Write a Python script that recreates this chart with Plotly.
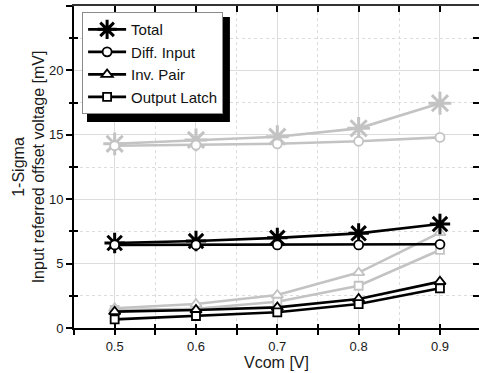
import plotly.graph_objects as go

vcom = [0.5, 0.6, 0.7, 0.8, 0.9]

# black series
total_b = [6.6, 6.75, 7.0, 7.35, 8.07]
diff_b = [6.45, 6.45, 6.45, 6.45, 6.5]
inv_b = [1.27, 1.4, 1.6, 2.25, 3.6]
latch_b = [0.67, 0.93, 1.22, 1.86, 3.08]

# gray series
total_g = [14.3, 14.6, 14.85, 15.5, 17.45]
diff_g = [14.15, 14.2, 14.3, 14.5, 14.8]
inv_g = [1.53, 1.86, 2.56, 4.3, 7.4]
latch_g = [1.4, 1.5, 2.04, 3.28, 6.06]

x_labels = ["0.5", "0.6", "0.7", "0.8", "0.9"]
x_minor = [0.45, 0.55, 0.65, 0.75, 0.85, 0.95]
x_all = [0.45, 0.5, 0.55, 0.6, 0.65, 0.7, 0.75, 0.8, 0.85, 0.9, 0.95]
y_major = [0, 5, 10, 15, 20, 25]
y_minor = [2.5, 7.5, 12.5, 17.5, 22.5]
y_all = [0, 2.5, 5, 7.5, 10, 12.5, 15, 17.5, 20, 22.5, 25]

GRAY = "#c3c3c3"
BLACK = "#000000"
FONT = "Liberation Sans, Arial, sans-serif"

fig = go.Figure()

def add(y, name, symbol, size, color, show, lw_marker=1.8, fill="white"):
    fig.add_trace(go.Scatter(
        x=vcom, y=y, name=name, mode="lines+markers",
        line=dict(color=color, width=2.6),
        marker=dict(symbol=symbol, size=size, color=fill if symbol != "asterisk" else color,
                    line=dict(color=color, width=lw_marker)),
        showlegend=show,
    ))

# gray first
add(total_g, "Total g", "asterisk", 19, GRAY, False, 3)
add(diff_g, "Diff g", "circle", 9, GRAY, False)
add(latch_g, "Latch g", "square", 8, GRAY, False)
add(inv_g, "Inv g", "triangle-up", 10, GRAY, False)
# black
add(total_b, "Total", "asterisk", 17, BLACK, True, 3)
add(diff_b, "Diff. Input", "circle", 9, BLACK, True)
add(inv_b, "Inv. Pair", "triangle-up", 10, BLACK, True)
add(latch_b, "Output Latch", "square", 8, BLACK, True)

# dummy traces to keep overlay axes alive
for xa, ya in [("x2", "y"), ("x3", "y"), ("x", "y2"), ("x", "y3")]:
    fig.add_trace(go.Scatter(x=[None], y=[None], xaxis=xa, yaxis=ya, showlegend=False, hoverinfo="skip"))

XR = [0.45, 0.948]
YR = [0, 25]
GRID = "#dcdcdc"

fig.update_layout(
    width=479, height=373,
    margin=dict(l=74, r=0, t=6, b=45, autoexpand=False),
    paper_bgcolor="white", plot_bgcolor="white",
    font=dict(family=FONT, color="#1a1a1a", size=13),
    showlegend=True,
    legend=dict(
        x=0.02, y=0.981, xanchor="left", yanchor="top",
        bgcolor="white", bordercolor="#8a8a8a", borderwidth=1,
        font=dict(family=FONT, size=15, color="#111"),
        tracegroupgap=0, itemwidth=38,
    ),
    xaxis=dict(
        range=XR, tickmode="array", tickvals=vcom, ticktext=x_labels,
        ticks="outside", ticklen=5, tickwidth=1.5, tickcolor="black",
        showgrid=True, gridcolor=GRID, gridwidth=1,
        minor=dict(tickvals=x_minor, ticks="outside", ticklen=5, tickwidth=1.5, tickcolor="black",
                   showgrid=True, gridcolor=GRID, griddash="dot", gridwidth=1),
        showline=True, linecolor="black", linewidth=2,
        zeroline=False, automargin=False,
        title=dict(text="Vcom [V]", font=dict(size=16), standoff=2),
        tickfont=dict(size=13),
    ),
    xaxis2=dict(
        range=XR, overlaying="x", anchor="y", side="bottom", automargin=False,
        tickmode="array", tickvals=x_all, ticks="inside", ticklen=4, tickwidth=1.5, tickcolor="black",
        showticklabels=False, showgrid=False, showline=False, zeroline=False,
    ),
    xaxis3=dict(
        range=XR, overlaying="x", anchor="y", side="top", automargin=False,
        tickmode="array", tickvals=x_all, ticks="inside", ticklen=6, tickwidth=1.5, tickcolor="black",
        showticklabels=False, showgrid=False, showline=True, linecolor="#333", linewidth=2, zeroline=False,
    ),
    yaxis=dict(
        range=YR, tickmode="array", tickvals=y_major,
        ticks="outside", ticklen=6, tickwidth=1.5, tickcolor="black",
        showgrid=True, gridcolor=GRID, gridwidth=1,
        minor=dict(tickvals=y_minor, ticks="outside", ticklen=3, tickwidth=1.5, tickcolor="black",
                   showgrid=True, gridcolor=GRID, griddash="dot", gridwidth=1),
        showline=True, linecolor="black", linewidth=2, zeroline=False, automargin=False,
        title=dict(text="1-Sigma<br>Input referred offset voltage [mV]", font=dict(size=16), standoff=0),
        tickfont=dict(size=13),
    ),
    yaxis2=dict(
        range=YR, overlaying="y", anchor="x", side="left", automargin=False,
        tickmode="array", tickvals=y_minor, ticks="inside", ticklen=4, tickwidth=1.5, tickcolor="black",
        showticklabels=False, showgrid=False, showline=False, zeroline=False,
    ),
    yaxis3=dict(
        range=YR, overlaying="y", anchor="x", side="right", automargin=False,
        tickmode="array", tickvals=y_all, ticks="inside", ticklen=6, tickwidth=1.5, tickcolor="black",
        showticklabels=False, showgrid=False, showline=False, zeroline=False,
    ),
    shapes=[dict(type="rect", xref="paper", yref="paper",
                 x0=0.0321, x1=0.385, y0=0.64, y1=0.9658,
                 fillcolor="black", line=dict(width=0), layer="above")],
)

fig.write_html("out.html", config={"displayModeBar": False},
               post_script="document.body.style.margin='0px';document.body.style.overflow='hidden';")
